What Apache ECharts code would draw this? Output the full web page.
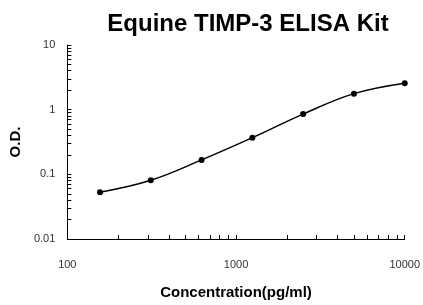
<!DOCTYPE html>
<html>
<head>
<meta charset="utf-8">
<script src="https://cdn.jsdelivr.net/npm/echarts@6/dist/echarts.min.js"></script>
<style>
  html, body { margin: 0; padding: 0; background: #fff; }
  #chart { width: 423px; height: 305px; }
</style>
</head>
<body>
<div id="chart"></div>
<script>
// standard curve: concentration (pg/ml) vs O.D.
const concentrations = [156.25, 312.5, 625, 1250, 2500, 5000, 10000];
const odValues = [0.053, 0.081, 0.167, 0.369, 0.855, 1.77, 2.57];

// log axis tick positions (1..9 in every decade)
const xTicks = [];
for (const base of [100, 1000]) {
  for (let m = 1; m <= 9; m++) xTicks.push(base * m);
}
xTicks.push(10000);
const yTicks = [];
for (const base of [0.01, 0.1, 1]) {
  for (let m = 1; m <= 9; m++) yTicks.push(+(base * m).toPrecision(3));
}
yTicks.push(10);

const chart = echarts.init(document.getElementById("chart"));
chart.setOption({
  animation: false,
  title: {
    text: "Equine TIMP-3 ELISA Kit",
    left: 243,
    textAlign: "center",
    top: 7,
    textStyle: { fontFamily: "Liberation Sans", fontSize: 24, fontWeight: "bold", color: "#000" },
  },
  grid: { left: 65, right: 18, top: 45, bottom: 59 },
  xAxis: {
    type: "log",
    logBase: 10,
    min: 100,
    max: 10000,
    name: "Concentration(pg/ml)",
    nameLocation: "middle",
    nameGap: 46,
    nameTextStyle: { fontFamily: "Liberation Sans", fontSize: 15, fontWeight: "bold", color: "#000" },
    axisLine: { lineStyle: { color: "#000", width: 1 } },
    axisTick: { inside: true, length: 4, customValues: xTicks, lineStyle: { color: "#000" } },
    axisLabel: {
      margin: 20,
      fontFamily: "Liberation Sans",
      fontSize: 11,
      color: "#333",
      formatter: (v) => String(v),
    },
    splitLine: { show: false },
  },
  yAxis: {
    type: "log",
    logBase: 10,
    min: 0.01,
    max: 10,
    name: "O.D.",
    nameLocation: "middle",
    nameGap: 38,
    nameTextStyle: { fontFamily: "Liberation Sans", fontSize: 15, fontWeight: "bold", color: "#000" },
    axisLine: { show: true, lineStyle: { color: "#000", width: 1 } },
    axisTick: { show: true, inside: true, length: 4, customValues: yTicks, lineStyle: { color: "#000" } },
    axisLabel: {
      margin: 12,
      fontFamily: "Liberation Sans",
      fontSize: 11,
      color: "#333",
      formatter: (v) => String(v),
    },
    splitLine: { show: false },
  },
  series: [
    {
      type: "line",
      data: concentrations.map((c, i) => [c, odValues[i]]),
      smooth: 0.4,
      symbol: "circle",
      symbolSize: 6,
      lineStyle: { color: "#000", width: 1.5 },
      itemStyle: { color: "#000" },
    },
  ],
});
</script>
</body>
</html>
